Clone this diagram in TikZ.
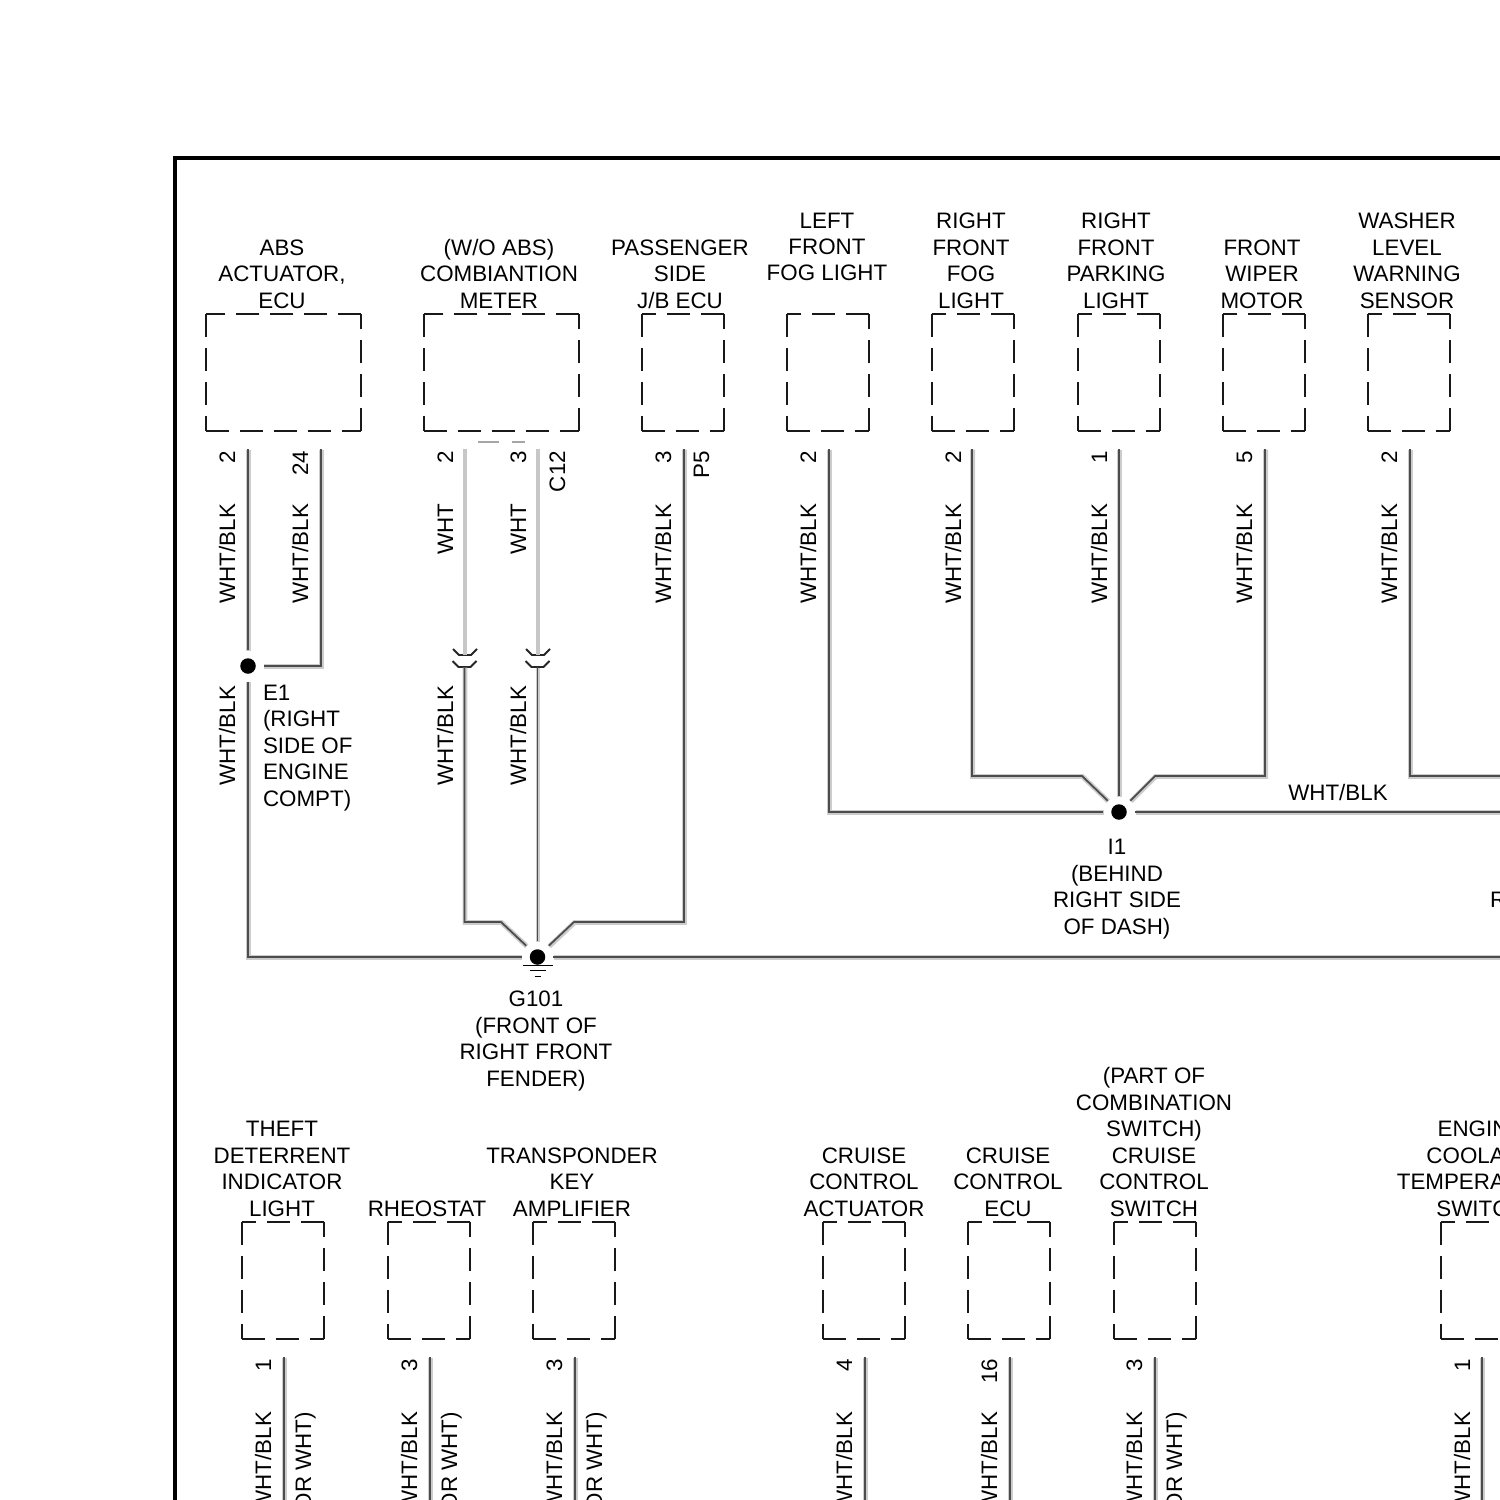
\documentclass[tikz,border=0pt]{standalone}
\usepackage{fontspec}
\setmainfont{Liberation Sans}
\tikzset{
	lbl/.style = {font = \fontsize{6.36pt}{7.51pt}\selectfont, inner sep = 0pt, outer sep = 0pt, text depth = 0pt},
	title/.style = {lbl, align = center, anchor = south},
	leftlbl/.style = {lbl, align = left, anchor = south west},
	wirelbl/.style = {lbl, rotate = 90, anchor = base east},
	boxarea/.style = {rectangle, minimum height = 1.17cm, inner sep = 0pt, outer sep = 0pt, anchor = north west},
	boxside/.style = {black!90, line width = 0.55pt, dash pattern = on 6.52pt off 3.12pt},
	wire/.style = {black!70, line width = 0.5pt, line join = miter, preaction = {draw = black!20, line width = 1.4pt, transform canvas = {xshift = 0.15pt, yshift = -0.15pt}}},
	whtwire/.style = {black!22, line width = 1.1pt},
	jointline/.style = {black!85, line width = 0.55pt},
	splice/.style = {circle, fill = black, inner sep = 0pt, minimum size = 0.155cm, outer sep = 0.082cm}
}
\newcommand{\compbox}[4]{%
	\node[boxarea, minimum width = #4cm] (#1) at (#2, #3) {};
	\draw[boxside] (#1.north west) -- (#1.south west);
	\draw[boxside] (#1.south west) -- (#1.south east);
	\draw[boxside] (#1.south east) -- (#1.north east);
	\draw[boxside] (#1.north east) -- (#1.north west);
}
\begin{document}
\begin{tikzpicture}[x = 0.01cm, y = -0.01cm]

	\useasboundingbox (0, 0) rectangle (1500, 1500);
	\clip (0, 0) rectangle (1500, 1500);

	\coordinate (frameTR) at (1520, 158);
	\coordinate (frameTL) at (175, 158);
	\coordinate (frameBL) at (175, 1520);
	\draw[black, line width = 1.13pt] (frameTR) -- (frameTL) -- (frameBL);

	% upper row of components
	\compbox{abs}{206}{314}{1.55}
	\compbox{meter}{424}{314}{1.55}
	\compbox{jb}{642}{314}{0.82}
	\compbox{lfog}{787}{314}{0.82}
	\compbox{rfog}{932}{314}{0.82}
	\compbox{rpark}{1078}{314}{0.82}
	\compbox{wiper}{1223}{314}{0.82}
	\compbox{washer}{1368}{314}{0.82}

	\node[title] (absT) at (282, 308) {ABS\\ACTUATOR,\\ECU};
	\node[title] (meterT) at (499, 308) {(W/O ABS)\\COMBIANTION\\METER};
	\node[title] (jbT) at (680, 308) {PASSENGER\\SIDE\\J/B ECU};
	\node[title] (lfogT) at (827, 281) {LEFT\\FRONT\\FOG LIGHT};
	\node[title] (rfogT) at (971, 308) {RIGHT\\FRONT\\FOG\\LIGHT};
	\node[title] (rparkT) at (1116, 308) {RIGHT\\FRONT\\PARKING\\LIGHT};
	\node[title] (wiperT) at (1262, 308) {FRONT\\WIPER\\MOTOR};
	\node[title] (washerT) at (1407, 308) {WASHER\\LEVEL\\WARNING\\SENSOR};

	% lower row of components
	\compbox{theft}{242}{1222}{0.82}
	\compbox{rheo}{388}{1222}{0.82}
	\compbox{trans}{533}{1222}{0.82}
	\compbox{actu}{823}{1222}{0.82}
	\compbox{cecu}{968}{1222}{0.82}
	\compbox{cswi}{1114}{1222}{0.82}
	\compbox{eng}{1441}{1222}{0.82}

	\node[title] (theftT) at (282, 1216) {THEFT\\DETERRENT\\INDICATOR\\LIGHT};
	\node[title] (rheoT) at (427, 1216) {RHEOSTAT};
	\node[title] (transT) at (572, 1216) {TRANSPONDER\\KEY\\AMPLIFIER};
	\node[title] (actuT) at (864, 1216) {CRUISE\\CONTROL\\ACTUATOR};
	\node[title] (cecuT) at (1008, 1216) {CRUISE\\CONTROL\\ECU};
	\node[title] (cswiT) at (1154, 1216) {(PART OF\\COMBINATION\\SWITCH)\\CRUISE\\CONTROL\\SWITCH};
	\node[title] (engT) at (1480.5, 1216) {ENGINE\\COOLANT\\TEMPERATURE\\SWITCH};

	% splices and ground
	\node[splice] (e1) at (248, 666) {};
	\node[splice] (i1) at (1119, 812) {};
	\node[splice] (g101) at (537.5, 957) {};

	\node[leftlbl] (e1T) at (263, 806) {E1\\(RIGHT\\SIDE OF\\ENGINE\\COMPT)};
	\node[title] (i1T) at (1117, 934) {I1\\(BEHIND\\RIGHT SIDE\\OF DASH)};
	\node[title] (g101T) at (536, 1086) {G101\\(FRONT OF\\RIGHT FRONT\\FENDER)};
	\node[lbl, anchor = base west] (cutR) at (1490, 907) {R};
	\node[lbl, anchor = base] (i1wire) at (1338, 800) {WHT/BLK};

	\draw[black, line width = 0.5pt] ([shift = {(-15, 8.5)}]g101.center) -- ++(30, 0);
	\draw[black, line width = 0.5pt] ([shift = {(-8, 13.5)}]g101.center) -- ++(16, 0);
	\draw[black, line width = 0.5pt] ([shift = {(-3, 19.5)}]g101.center) -- ++(6, 0);

	% pin ends
	\coordinate (abs2) at (248, 449);
	\coordinate (abs24) at (321, 449);
	\coordinate (meter2) at (465, 449);
	\coordinate (meter3) at (538, 449);
	\coordinate (jb3) at (684, 449);
	\coordinate (lfog2) at (829, 449);
	\coordinate (rfog2) at (972, 449);
	\coordinate (rpark1) at (1119, 449);
	\coordinate (wiper5) at (1265, 449);
	\coordinate (washer2) at (1410, 449);
	\coordinate (offI) at (1510, 813);
	\coordinate (offW) at (1510, 776);
	\coordinate (offG) at (1510, 958);

	% inline connectors
	\coordinate (j1up) at (465, 655);
	\coordinate (j1low) at (464.5, 667);
	\coordinate (j2up) at (538, 655);
	\coordinate (j2low) at (537.5, 667);
	\draw[jointline] (j1up) ++(-12, -6) -- ++(6, 6) -- ++(12, 0) -- ++(6, -6);
	\draw[jointline] (j1low) ++(-12, -6) -- ++(6, 6) -- ++(12, 0) -- ++(6, -6);
	\draw[jointline] (j2up) ++(-12, -6) -- ++(6, 6) -- ++(12, 0) -- ++(6, -6);
	\draw[jointline] (j2low) ++(-12, -6) -- ++(6, 6) -- ++(12, 0) -- ++(6, -6);

	% C12 connector mark
	\coordinate (c12a) at (478, 442);
	\coordinate (c12b) at (525, 442);
	\draw[black!35, line width = 0.4pt, dash pattern = on 6pt off 3.7pt] (c12a) -- (c12b);

	% wires to G101
	\draw[wire] (abs2) -- (e1.north);
	\draw[wire] (abs24) |- (e1.east);
	\draw[wire] (e1.south) |- (g101.west);
	\draw[whtwire] (meter2) -- (j1up);
	\draw[whtwire] (meter3) -- (j2up);
	\draw[wire] (j1low) -- (464.5, 922) -- (501, 922) -- (g101.north west);
	\draw[wire] (j2low) -- (g101.north);
	\draw[wire] (jb3) -- (684, 922) -- (574, 922) -- (g101.north east);
	\draw[wire] (g101.east) -- (g101.east -| offG);

	% wires to I1
	\draw[wire] (lfog2) |- (i1.west);
	\draw[wire] (rfog2) -- (972, 776) -- (1082, 776) -- (i1.north west);
	\draw[wire] (rpark1) -- (i1.north);
	\draw[wire] (wiper5) -- (1265, 776) -- (1155, 776) -- (i1.north east);
	\draw[wire] (i1.east) -- (i1.east -| offI);
	\draw[wire] (washer2) |- (offW);

	% labels of the upper wires
	\node[wirelbl] (absP2) at (235, 451) {2};
	\node[wirelbl] (absP24) at (308, 451) {24};
	\node[wirelbl] (meterP2) at (453, 451) {2};
	\node[wirelbl] (meterP3) at (526, 451) {3};
	\node[wirelbl] (c12) at (565, 451) {C12};
	\node[wirelbl] (jbP3) at (671, 451) {3};
	\node[wirelbl] (p5) at (709, 451) {P5};
	\node[wirelbl] (lfogP) at (816, 451) {2};
	\node[wirelbl] (rfogP) at (961, 451) {2};
	\node[wirelbl] (rparkP) at (1107, 451) {1};
	\node[wirelbl] (wiperP) at (1252, 451) {5};
	\node[wirelbl] (washerP) at (1397, 451) {2};

	\node[wirelbl] (absC2) at (235, 504) {WHT/BLK};
	\node[wirelbl] (absC24) at (308, 504) {WHT/BLK};
	\node[wirelbl] (meterC2) at (453, 504) {WHT};
	\node[wirelbl] (meterC3) at (526, 504) {WHT};
	\node[wirelbl] (jbC) at (671, 504) {WHT/BLK};
	\node[wirelbl] (lfogC) at (816, 504) {WHT/BLK};
	\node[wirelbl] (rfogC) at (961, 504) {WHT/BLK};
	\node[wirelbl] (rparkC) at (1107, 504) {WHT/BLK};
	\node[wirelbl] (wiperC) at (1252, 504) {WHT/BLK};
	\node[wirelbl] (washerC) at (1397, 504) {WHT/BLK};

	\node[wirelbl] (e1C) at (235, 686) {WHT/BLK};
	\node[wirelbl] (j1C) at (453, 686) {WHT/BLK};
	\node[wirelbl] (j2C) at (526, 686) {WHT/BLK};

	% lower wires, cut by the page
	\coordinate (theftW) at (284, 1357);
	\coordinate (rheoW) at (430, 1357);
	\coordinate (transW) at (575, 1357);
	\coordinate (actuW) at (865, 1357);
	\coordinate (cecuW) at (1010, 1357);
	\coordinate (cswiW) at (1155, 1357);
	\coordinate (engW) at (1482, 1357);
	\coordinate (theftE) at (284, 1510);
	\coordinate (rheoE) at (430, 1510);
	\coordinate (transE) at (575, 1510);
	\coordinate (actuE) at (865, 1510);
	\coordinate (cecuE) at (1010, 1510);
	\coordinate (cswiE) at (1155, 1510);
	\coordinate (engE) at (1482, 1510);
	\draw[wire] (theftW) -- (theftE);
	\draw[wire] (rheoW) -- (rheoE);
	\draw[wire] (transW) -- (transE);
	\draw[wire] (actuW) -- (actuE);
	\draw[wire] (cecuW) -- (cecuE);
	\draw[wire] (cswiW) -- (cswiE);
	\draw[wire] (engW) -- (engE);

	\node[wirelbl] (theftP) at (271, 1359) {1};
	\node[wirelbl] (rheoP) at (417, 1359) {3};
	\node[wirelbl] (transP) at (562, 1359) {3};
	\node[wirelbl] (actuP) at (852, 1359) {4};
	\node[wirelbl] (cecuP) at (997, 1359) {16};
	\node[wirelbl] (cswiP) at (1142, 1359) {3};
	\node[wirelbl] (engP) at (1470, 1359) {1};

	\node[wirelbl] (theftC) at (271, 1412) {WHT/BLK};
	\node[wirelbl] (rheoC) at (417, 1412) {WHT/BLK};
	\node[wirelbl] (transC) at (562, 1412) {WHT/BLK};
	\node[wirelbl] (actuC) at (852, 1412) {WHT/BLK};
	\node[wirelbl] (cecuC) at (997, 1412) {WHT/BLK};
	\node[wirelbl] (cswiC) at (1142, 1412) {WHT/BLK};
	\node[wirelbl] (engC) at (1470, 1412) {WHT/BLK};

	\node[wirelbl] (theftO) at (311, 1412) {(OR WHT)};
	\node[wirelbl] (rheoO) at (457, 1412) {(OR WHT)};
	\node[wirelbl] (transO) at (602, 1412) {(OR WHT)};
	\node[wirelbl] (cswiO) at (1182, 1412) {(OR WHT)};

\end{tikzpicture}
\end{document}
